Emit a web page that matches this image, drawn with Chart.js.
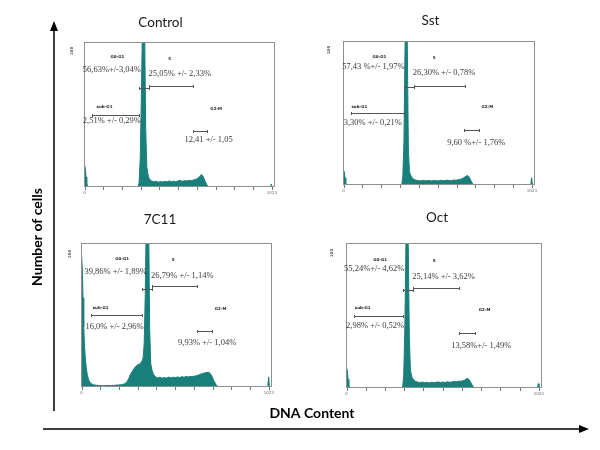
<!DOCTYPE html>
<html>
<head>
<meta charset="utf-8">
<script src="https://cdn.jsdelivr.net/npm/chart.js@4.4.0/dist/chart.umd.min.js"></script>
<style>
  html, body { margin: 0; padding: 0; background: #fff; }
  #page { position: relative; width: 600px; height: 450px; overflow: hidden; }
  #page canvas { position: absolute; }
</style>
</head>
<body>
<div id="page">
  <canvas id="frame" width="600" height="450" style="left:0;top:0"></canvas>
  <canvas id="c0"></canvas>
  <canvas id="c1"></canvas>
  <canvas id="c2"></canvas>
  <canvas id="c3"></canvas>
</div>
<script>
// ---- data ----
const panelNames = ["Control", "Sst", "7C11", "Oct"];
const yMaxValues = [100, 100, 100, 100];
const xTickValues = [0, 102, 205, 307, 409, 512, 614, 716, 818, 921, 1023];
const xTickLabels = ["0", "", "", "", "", "", "", "", "", "", "1023"];
const gateNames = ["sub-G1", "G0-G1", "S", "G2-M"];

const controlChannels = [0, 4, 8, 12, 16, 22, 232, 236, 240, 262, 266, 270, 292, 298, 304, 310, 316, 322, 328, 334, 340, 346, 352, 358, 366, 378, 390, 402, 414, 426, 438, 450, 462, 474, 486, 498, 510, 522, 534, 546, 558, 570, 582, 594, 606, 618, 628, 636, 644, 652, 660, 668, 676, 1016, 1020, 1024, 1028];
const controlCounts = [15, 13, 7, 3, 1, 0, 0, 0.7, 0, 0, 0.7, 0, 0, 3, 20, 60, 110, 140, 110, 40, 14, 9, 6, 5, 4.2, 3.6, 4, 3.3, 3.8, 3.4, 3.9, 3.5, 4.2, 3.7, 4, 3.6, 4.2, 4.5, 3.9, 4.4, 4.1, 4.6, 4.3, 4.8, 5.2, 6, 7.2, 8.5, 8, 6, 3.5, 1.5, 0, 0, 2, 0, 0];
const controlGates = [[39, 297], [297, 353], [353, 592], [592, 668]];
const controlGateLevels = [50, 68, 70, 38.6];
const controlPercents = ["2,51% +/- 0,29%", "56,63%+/-3,04%", "25,05% +/- 2,33%", "12,41 +/- 1,05"];

const sstChannels = [0, 4, 8, 12, 16, 22, 316, 322, 328, 334, 340, 346, 352, 358, 364, 372, 382, 394, 406, 418, 430, 442, 454, 466, 478, 490, 502, 514, 526, 538, 550, 562, 574, 586, 598, 610, 622, 634, 646, 658, 668, 676, 684, 692, 700, 708, 1014, 1018, 1022, 1026];
const sstCounts = [10, 9, 5, 1.5, 0.3, 0, 0, 6, 30, 95, 140, 100, 25, 9, 7, 5, 4, 3.3, 3.1, 2.8, 3.2, 2.9, 3, 3.1, 2.8, 3.2, 3, 2.8, 3.3, 3.1, 3, 3.4, 3.2, 3, 3.5, 3.3, 3.6, 3.9, 4.5, 5.5, 6.3, 6.5, 5.2, 3, 1.2, 0, 0, 1.5, 5, 0];
const sstGates = [[41, 326], [326, 380], [380, 658], [655, 736]];
const sstGateLevels = [50, 68, 69, 38];
const sstPercents = ["3,30% +/- 0,21%", "57,43 %+/- 1,97%", "26,30% +/- 0,78%", "9,60 %+/- 1,76%"];

const c7c11Channels = [0, 4, 8, 12, 16, 20, 26, 32, 40, 50, 65, 80, 100, 120, 140, 160, 180, 200, 220, 235, 248, 258, 268, 278, 288, 298, 308, 318, 328, 336, 342, 348, 354, 360, 366, 372, 378, 386, 394, 404, 416, 428, 440, 452, 464, 476, 488, 500, 512, 524, 536, 548, 560, 572, 584, 596, 608, 620, 632, 644, 656, 668, 680, 692, 702, 712, 722, 732, 742, 750, 1014, 1018, 1022, 1026];
const c7c11Counts = [92, 82, 62, 42, 29, 21, 13, 8, 4.5, 2.5, 1.6, 1.2, 1, 0.8, 1.1, 1, 1.2, 1.4, 1.6, 2.2, 3.5, 6, 9, 11, 13, 14.5, 15.5, 16, 17.5, 20, 30, 65, 120, 150, 120, 40, 16, 11, 8.5, 7, 6.3, 6.8, 6.1, 6.6, 6.2, 6.9, 6.4, 6.8, 6.5, 7, 6.6, 7.1, 6.8, 7.3, 7, 7.4, 7.2, 7.6, 8, 8.6, 9.2, 9.6, 10, 10.3, 9.5, 7.5, 4.5, 2, 0.5, 0, 0, 2.5, 7, 0];
const c7c11Gates = [[49, 331], [331, 386], [386, 632], [628, 710]];
const c7c11GateLevels = [50, 68, 70, 38.7];
const c7c11Percents = ["16,0% +/- 2,96%", "39,86% +/- 1,89%", "26,79% +/- 1,14%", "9,93% +/- 1,04%"];

const octChannels = [0, 4, 8, 12, 16, 22, 244, 248, 252, 270, 274, 278, 298, 304, 310, 316, 322, 328, 334, 340, 349, 358, 368, 380, 392, 404, 416, 428, 440, 452, 464, 476, 488, 500, 512, 524, 536, 548, 560, 572, 584, 596, 608, 620, 630, 638, 646, 654, 662, 672, 682, 1016, 1020, 1024, 1028];
const octCounts = [14, 12, 6, 2, 0.5, 0, 0, 0.7, 0, 0, 0.7, 0, 0, 8, 40, 100, 140, 100, 35, 12, 7, 5.5, 4.5, 4, 3.7, 4.1, 3.6, 3.9, 3.5, 4, 3.7, 3.9, 4.2, 3.8, 4.1, 3.7, 4.3, 4, 4.2, 4.5, 4.3, 4.7, 4.6, 5, 5.6, 6.3, 6.5, 5.5, 3.5, 1.2, 0, 0, 3, 0, 0];
const octGates = [[41, 299], [299, 355], [355, 597], [597, 681]];
const octGateLevels = [50, 67.5, 69, 38];
const octPercents = ["2,98% +/- 0,52%", "55,24%+/- 4,62%", "25,14% +/- 3,62%", "13,58%+/- 1,49%"];

// ---- layout (page pixels / label anchors in data units) ----
const panelBoxes = [[84, 42, 275, 187], [343, 41, 535, 185], [81, 243, 272, 387], [346, 243, 542, 388]];
const titleOffsets = [[76.5, -19.3], [87.5, -20.3], [79, -23.5], [91, -25]];
const yLabelOffsets = [[-12, 9], [-14, 9], [-11, 11], [-14, 10]];
// [nameX, nameY, pctX, pctY] per gate
const labelSpots = [
  [[109, 55, 149, 45.7], [179, 89.4, 149, 81], [465, 88, 520, 78], [719, 54, 677, 32.4]],
  [[86, 54, 159, 43], [195, 88.7, 162, 82], [492, 88, 546, 78], [781, 54, 721, 29]],
  [[104, 55, 180, 42], [222, 89, 186, 80], [500, 88, 550, 77], [759, 54.4, 686, 30.6]],
  [[86, 55, 152, 43], [179, 88, 147, 82], [466, 87.7, 516, 77], [735, 54, 717, 29]],
];

const series = [
  [controlChannels, controlCounts, controlGates, controlGateLevels, controlPercents],
  [sstChannels, sstCounts, sstGates, sstGateLevels, sstPercents],
  [c7c11Channels, c7c11Counts, c7c11Gates, c7c11GateLevels, c7c11Percents],
  [octChannels, octCounts, octGates, octGateLevels, octPercents],
];

const TEAL = "#187f7b";
const PAD = { left: 24, right: 10, top: 34, bottom: 12 };

const panelDecor = {
  id: "panelDecor",
  afterDatasetsDraw(chart, args, opts) {
    const { ctx, chartArea: a } = chart;
    const x = chart.scales.x, y = chart.scales.y;
    const i = opts.index;
    const [, , gates, levels, pcts] = series[i];
    ctx.save();

    // frame
    ctx.strokeStyle = "#8f8f8f";
    ctx.lineWidth = 1;
    ctx.strokeRect(a.left + 0.5, a.top + 0.5, a.right - a.left - 1, a.bottom - a.top - 1);

    // x ticks
    ctx.strokeStyle = "#777";
    ctx.beginPath();
    xTickValues.forEach((v) => {
      const px = Math.round(x.getPixelForValue(v)) + 0.5;
      ctx.moveTo(px, a.bottom);
      ctx.lineTo(px, a.bottom + 3);
    });
    ctx.stroke();
    ctx.fillStyle = "#666";
    ctx.font = "4px 'DejaVu Sans'";
    ctx.textAlign = "center";
    ctx.textBaseline = "top";
    xTickValues.forEach((v, k) => {
      if (xTickLabels[k]) ctx.fillText(xTickLabels[k], x.getPixelForValue(v), a.bottom + 4);
    });

    // y max label, rotated
    ctx.save();
    ctx.translate(a.left + yLabelOffsets[i][0], a.top + yLabelOffsets[i][1]);
    ctx.rotate(-Math.PI / 2);
    ctx.font = "bold 4px 'DejaVu Sans'";
    ctx.fillStyle = "#555";
    ctx.textBaseline = "middle";
    ctx.fillText(String(yMaxValues[i]), 0, 0);
    ctx.restore();

    // gates
    ctx.strokeStyle = "#555";
    ctx.lineWidth = 1;
    gates.forEach(([g0, g1], k) => {
      const yy = Math.round(y.getPixelForValue(levels[k])) + 0.5;
      const x0 = Math.round(x.getPixelForValue(g0)) + 0.5;
      const x1 = Math.round(x.getPixelForValue(g1)) + 0.5;
      ctx.beginPath();
      ctx.moveTo(x0, yy); ctx.lineTo(x1, yy);
      ctx.moveTo(x0, yy - 1.5); ctx.lineTo(x0, yy + 1.5);
      ctx.moveTo(x1, yy - 1.5); ctx.lineTo(x1, yy + 1.5);
      ctx.stroke();
    });

    // gate names and percentages
    ctx.textBaseline = "middle";
    labelSpots[i].forEach(([nx, ny, tx, ty], k) => {
      ctx.fillStyle = "#222";
      ctx.font = "bold 4px 'DejaVu Sans'";
      ctx.fillText(gateNames[k], x.getPixelForValue(nx), y.getPixelForValue(ny));
      ctx.fillStyle = "#3a3a3a";
      ctx.font = "8.5px 'Liberation Serif'";
      ctx.fillText(pcts[k], x.getPixelForValue(tx), y.getPixelForValue(ty));
    });

    // panel title
    ctx.fillStyle = "#1a1a1a";
    ctx.font = "13.5px Lato";
    ctx.fillText(panelNames[i], a.left + titleOffsets[i][0], a.top + titleOffsets[i][1]);
    ctx.restore();
  },
};

panelNames.forEach((name, i) => {
  const [L, T, R, B] = panelBoxes[i];
  const canvas = document.getElementById("c" + i);
  canvas.width = R - L + PAD.left + PAD.right;
  canvas.height = B - T + PAD.top + PAD.bottom;
  canvas.style.left = L - PAD.left + "px";
  canvas.style.top = T - PAD.top + "px";
  const [chs, counts] = series[i];
  new Chart(canvas, {
    type: "line",
    data: {
      datasets: [{
        label: name,
        data: chs.map((c, k) => ({ x: c, y: counts[k] })),
        borderColor: TEAL,
        backgroundColor: TEAL,
        borderWidth: 1,
        pointRadius: 0,
        tension: 0,
        fill: "origin",
      }],
    },
    options: {
      responsive: false,
      animation: false,
      layout: { padding: PAD },
      plugins: { legend: { display: false }, title: { display: false }, tooltip: { enabled: false }, panelDecor: { index: i } },
      scales: {
        x: { type: "linear", min: -3, max: 1040, display: false },
        y: { min: 0, max: yMaxValues[i], display: false },
      },
    },
    plugins: [panelDecor],
  });
});

// outer axis arrows and labels
const f = document.getElementById("frame").getContext("2d");
f.strokeStyle = "#000";
f.fillStyle = "#000";
f.lineWidth = 1.5;
f.beginPath();
f.moveTo(54, 411); f.lineTo(54, 30);
f.moveTo(43, 429); f.lineTo(580, 429);
f.stroke();
f.beginPath();
f.moveTo(54, 21); f.lineTo(50, 31); f.lineTo(58, 31); f.closePath();
f.moveTo(589, 429); f.lineTo(579, 425); f.lineTo(579, 433); f.closePath();
f.fill();
f.font = "bold 14px Lato";
f.textAlign = "center";
f.textBaseline = "middle";
f.fillText("DNA Content", 312, 413);
f.save();
f.translate(37, 237);
f.rotate(-Math.PI / 2);
f.fillText("Number of cells", 0, 0);
f.restore();
</script>
</body>
</html>
